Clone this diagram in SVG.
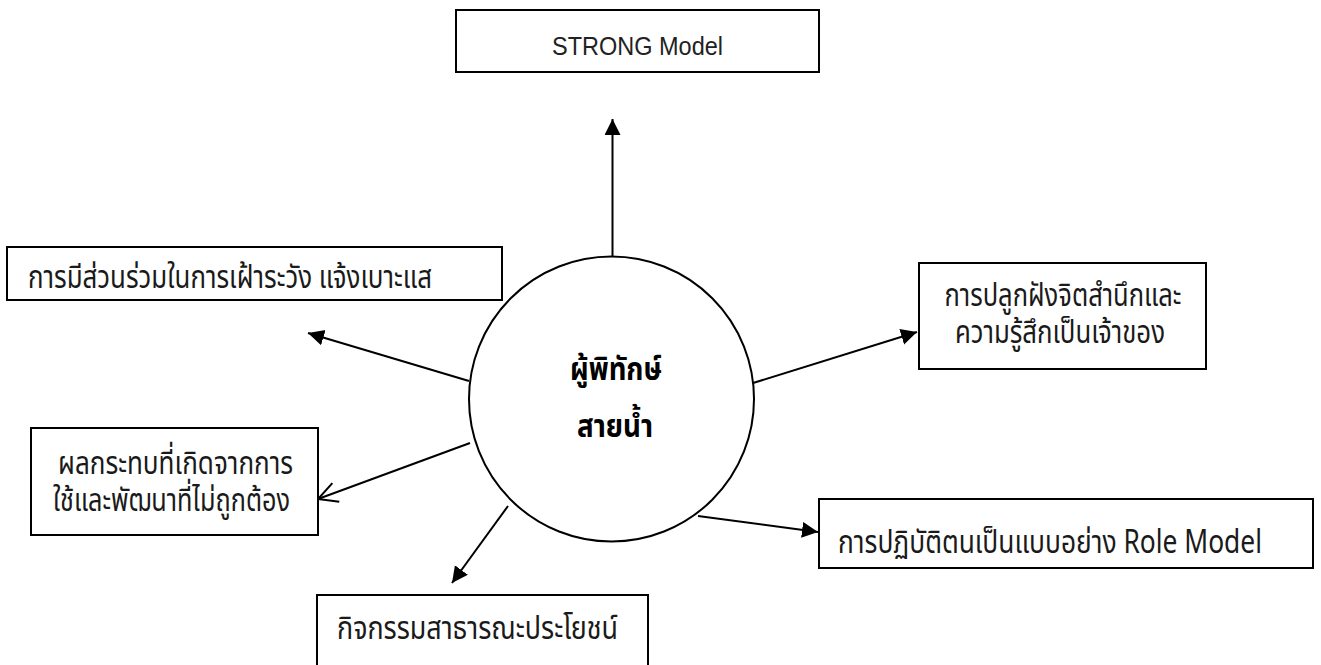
<svg xmlns="http://www.w3.org/2000/svg" width="1321" height="665" viewBox="0 0 1321 665">
<defs>
<style>
.box{fill:#fff;stroke:#000;stroke-width:2}
.t{font-family:"Noto Sans Thai","Noto Sans","DejaVu Sans","Liberation Sans",sans-serif;font-size:32px;fill:#1a1a1a}
.b{font-weight:bold;fill:#000}
.lat{font-family:"Liberation Sans","Noto Sans",sans-serif;font-size:26px;fill:#222}
.c{text-anchor:middle}
.ln{stroke:#000;stroke-width:2;fill:none}
</style>
<marker id="ah" markerUnits="userSpaceOnUse" markerWidth="18" markerHeight="18" refX="16" refY="8" orient="auto">
<path d="M0,0 L16,8 L0,16 z" fill="#000"/>
</marker>
<marker id="oh" markerUnits="userSpaceOnUse" markerWidth="24" markerHeight="24" refX="20" refY="11" orient="auto">
<path d="M1,1 L20,11 L1,21" fill="none" stroke="#000" stroke-width="2"/>
</marker>
</defs>
<rect width="1321" height="665" fill="#fff"/>
<g id="connectors">
<line class="ln" x1="612.5" y1="257" x2="612.5" y2="119" marker-end="url(#ah)"/>
<line class="ln" x1="469" y1="381" x2="308" y2="333" marker-end="url(#ah)"/>
<line class="ln" x1="470" y1="443" x2="318" y2="499" marker-end="url(#oh)"/>
<line class="ln" x1="508" y1="506" x2="452" y2="583" marker-end="url(#ah)"/>
<line class="ln" x1="698" y1="516" x2="818" y2="532" marker-end="url(#ah)"/>
<line class="ln" x1="753" y1="383" x2="917" y2="332" marker-end="url(#ah)"/>
</g>
<g id="center">
<circle cx="611.5" cy="399" r="142.5" fill="#fff" stroke="#000" stroke-width="2"/>
<text class="t b c" x="616" y="380" textLength="92" lengthAdjust="spacingAndGlyphs">ผู้พิทักษ์</text>
<text class="t b c" x="615" y="437" textLength="76" lengthAdjust="spacingAndGlyphs">สายน้ำ</text>
</g>
<g id="strong">
<rect class="box" x="456" y="10" width="363" height="62"/>
<text class="lat c" x="637.5" y="55" textLength="171" lengthAdjust="spacingAndGlyphs">STRONG Model</text>
</g>
<g id="watch">
<rect class="box" x="7" y="247" width="495" height="53"/>
<text class="t" x="28" y="288" textLength="404" lengthAdjust="spacingAndGlyphs">การมีส่วนร่วมในการเฝ้าระวัง แจ้งเบาะแส</text>
</g>
<g id="ownership">
<rect class="box" x="919" y="263" width="287" height="106"/>
<text class="t c" x="1063" y="306" textLength="237" lengthAdjust="spacingAndGlyphs">การปลูกฝังจิตสำนึกและ</text>
<text class="t c" x="1060" y="343" textLength="210" lengthAdjust="spacingAndGlyphs">ความรู้สึกเป็นเจ้าของ</text>
</g>
<g id="impact">
<rect class="box" x="31" y="428" width="287" height="107"/>
<text class="t c" x="175.5" y="474" textLength="235" lengthAdjust="spacingAndGlyphs">ผลกระทบที่เกิดจากการ</text>
<text class="t c" x="171.5" y="511" textLength="237" lengthAdjust="spacingAndGlyphs">ใช้และพัฒนาที่ไม่ถูกต้อง</text>
</g>
<g id="role">
<rect class="box" x="819" y="499" width="494" height="69"/>
<text class="t" x="838" y="553" textLength="424" lengthAdjust="spacingAndGlyphs">การปฏิบัติตนเป็นแบบอย่าง Role Model</text>
</g>
<g id="activity">
<rect class="box" x="317" y="595" width="331" height="80"/>
<text class="t" x="337" y="639" textLength="281" lengthAdjust="spacingAndGlyphs">กิจกรรมสาธารณะประโยชน์</text>
</g>
</svg>
